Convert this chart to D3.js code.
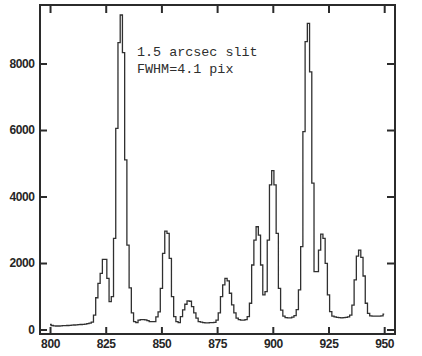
<!DOCTYPE html>
<html>
<head>
<meta charset="utf-8">
<script src="https://cdn.jsdelivr.net/npm/d3@7"></script>
<style>
  html, body { margin: 0; padding: 0; background: #fff; }
  .axis text { font-family: "Liberation Sans", Arial, sans-serif; font-weight: bold; font-size: 12px; fill: #262626; letter-spacing: -0.4px; }
  .axis line { stroke: #2b2b2b; stroke-width: 2; }
  .note { font-family: "Liberation Mono", "Courier New", monospace; font-size: 13.4px; fill: #2e2e2e; }
</style>
</head>
<body>
<div id="chart"></div>
<script>
// spectrum channels (pixels) and counts
const channels = [
  800, 801, 802, 803, 804, 805, 806, 807, 808, 809,
  810, 811, 812, 813, 814, 815, 816, 817, 818, 819,
  820, 821, 822, 823, 824, 825, 826, 827, 828, 829,
  830, 831, 832, 833, 834, 835, 836, 837, 838, 839,
  840, 841, 842, 843, 844, 845, 846, 847, 848, 849,
  850, 851, 852, 853, 854, 855, 856, 857, 858, 859,
  860, 861, 862, 863, 864, 865, 866, 867, 868, 869,
  870, 871, 872, 873, 874, 875, 876, 877, 878, 879,
  880, 881, 882, 883, 884, 885, 886, 887, 888, 889,
  890, 891, 892, 893, 894, 895, 896, 897, 898, 899,
  900, 901, 902, 903, 904, 905, 906, 907, 908, 909,
  910, 911, 912, 913, 914, 915, 916, 917, 918, 919,
  920, 921, 922, 923, 924, 925, 926, 927, 928, 929,
  930, 931, 932, 933, 934, 935, 936, 937, 938, 939,
  940, 941, 942, 943, 944, 945, 946, 947, 948, 949,
  950
];
const counts = [
  150, 120, 110, 105, 105, 110, 115, 115, 120, 125,
  130, 135, 140, 145, 150, 155, 165, 175, 190, 220,
  435, 955, 1390, 1690, 2110, 2110, 1540, 840, 990, 2740,
  6050, 8630, 9460, 8330, 5100, 2540, 1250, 500, 240, 210,
  280, 300, 300, 290, 270, 240, 235, 240, 380, 530,
  1240, 2290, 2960, 2890, 2140, 990, 390, 235, 205, 385,
  590, 760, 860, 850, 690, 500, 340, 235, 220, 210,
  200, 200, 205, 210, 215, 285, 500, 990, 1340, 1540,
  1460, 1090, 740, 500, 340, 300, 285, 285, 300, 385,
  790, 1940, 2690, 3090, 2840, 1940, 1040, 1140, 2690, 4350,
  4780, 4350, 2890, 1240, 585, 400, 360, 350, 350, 370,
  420, 600, 1190, 2490, 5950, 8660, 9210, 7750, 4400, 1740,
  1740, 2390, 2870, 2740, 1990, 1040, 535, 405, 380, 365,
  355, 350, 355, 365, 380, 435, 735, 1490, 2210, 2390,
  2170, 1610, 790, 485, 410, 400, 400, 400, 405, 410,
  465
];
const xTicks = [800, 825, 850, 875, 900, 925, 950];
const yTicks = [0, 2000, 4000, 6000, 8000];
const noteLines = ['1.5 arcsec slit', 'FWHM=4.1 pix'];

const width = 422, height = 356;
const margin = {top: 5, right: 27, bottom: 22, left: 40};
const w = width - margin.left - margin.right;
const h = height - margin.top - margin.bottom;

const svg = d3.select('#chart')
              .append('svg')
              .attr('width', width)
              .attr('height', height);
const g = svg.append('g')
             .attr('transform', `translate(${margin.left}, ${margin.top})`);

const x = d3.scaleLinear().domain([795.5, 954.85]).range([0, w]);
const y = d3.scaleLinear().domain([-135, 9760]).range([h, 0]);

// axes, ticks pointing inward on all four sides
g.append('g')
 .attr('class', 'axis')
 .attr('transform', `translate(0, ${h})`)
 .call(d3.axisBottom(x).tickValues(xTicks).tickSizeInner(-7).tickSizeOuter(0).tickPadding(5.5).tickFormat(d3.format('d')))
 .call(a => a.select('.domain').remove());
g.append('g')
 .attr('class', 'axis')
 .call(d3.axisTop(x).tickValues(xTicks).tickSizeInner(-8).tickSizeOuter(0).tickFormat(''))
 .call(a => a.select('.domain').remove());
g.append('g')
 .attr('class', 'axis')
 .call(d3.axisLeft(y).tickValues(yTicks).tickSizeInner(-7).tickSizeOuter(0).tickPadding(5.5).tickFormat(d3.format('d')))
 .call(a => a.select('.domain').remove());
g.append('g')
 .attr('class', 'axis')
 .attr('transform', `translate(${w}, 0)`)
 .call(d3.axisRight(y).tickValues(yTicks).tickSizeInner(-8).tickSizeOuter(0).tickFormat(''))
 .call(a => a.select('.domain').remove());

g.append('rect')
 .attr('width', w)
 .attr('height', h)
 .attr('fill', 'none')
 .attr('stroke', '#2b2b2b')
 .attr('stroke-width', 2);

const line = d3.line()
               .x((d, i) => x(channels[i]))
               .y(d => y(d))
               .curve(d3.curveStep);

g.append('path')
 .datum(counts)
 .attr('fill', 'none')
 .attr('stroke', '#303030')
 .attr('stroke-width', 1.3)
 .attr('d', line);

g.append('g')
 .selectAll('text')
 .data(noteLines)
 .join('text')
 .attr('class', 'note')
 .attr('x', 97)
 .attr('y', (d, i) => 51 + i * 16.7)
 .text(d => d);
</script>
</body>
</html>
